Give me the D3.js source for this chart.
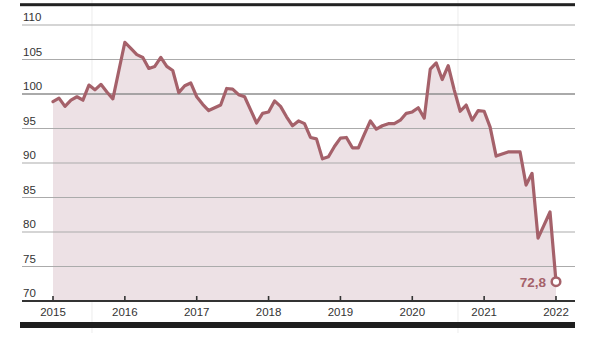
<!DOCTYPE html>
<html>
<head>
<meta charset="utf-8">
<script src="https://cdn.jsdelivr.net/npm/d3@7"></script>
<style>
  html, body { margin: 0; padding: 0; background: #fff; }
  svg { display: block; font-family: "Liberation Sans", Arial, sans-serif; }
</style>
</head>
<body>
<svg id="chart" width="594" height="339"></svg>
<script>
// Monthly index values, January 2015 to January 2022
const startYear = 2015;
const values = [
  98.9, 99.4, 98.2, 99.1, 99.6, 99.1, 101.3, 100.6, 101.4, 100.3, 99.3, 103.4,
  107.5, 106.6, 105.7, 105.3, 103.7, 104.0, 105.3, 104.0, 103.4, 100.2, 101.2, 101.6,
  99.6, 98.5, 97.6, 98.0, 98.4, 100.8, 100.7, 99.9, 99.6, 97.7, 95.8, 97.2,
  97.4, 99.0, 98.2, 96.7, 95.4, 96.1, 95.7, 93.7, 93.5, 90.6, 90.9, 92.4,
  93.6, 93.7, 92.2, 92.2, 94.2, 96.1, 94.9, 95.4, 95.7, 95.7, 96.2, 97.2,
  97.4, 98.0, 96.5, 103.6, 104.5, 102.1, 104.1, 100.6, 97.5, 98.4, 96.2, 97.6,
  97.5, 95.2, 91.0, 91.3, 91.6, 91.6, 91.6, 86.8, 88.5, 79.1, 81.0, 82.9,
  72.8
];
const yearTicks = [2015, 2016, 2017, 2018, 2019, 2020, 2021, 2022];
const valueTicks = [70, 75, 80, 85, 90, 95, 100, 105, 110];

const lineColor = "#a5616a";
const fillColor = "#ede1e5";

const data = values.map((v, i) => ({ t: startYear + i / 12, v }));

const svg = d3.select("#chart");
const x = d3.scaleLinear().domain([2015, 2022]).range([53, 556]);
const y = d3.scaleLinear().domain([70, 110]).range([301, 25]);
const left = 22, right = 575;

// faint layout guides
svg.selectAll("line.guide").data([92, 458]).join("line")
  .attr("x1", d => d).attr("x2", d => d).attr("y1", 0).attr("y2", 333)
  .attr("stroke", "#e4e4e4").attr("stroke-width", 0.7);

// top rule
svg.append("rect").attr("x", 20).attr("y", 3.2).attr("width", right - 20).attr("height", 3)
  .attr("fill", "#222");

// area under the line
const area = d3.area().x(d => x(d.t)).y0(y(70)).y1(d => y(d.v));
svg.append("path").datum(data).attr("d", area).attr("fill", fillColor);

// horizontal gridlines
svg.selectAll("line.grid").data(valueTicks.filter(v => v > 70)).join("line")
  .attr("x1", left).attr("x2", right)
  .attr("y1", d => y(d)).attr("y2", d => y(d))
  .attr("stroke", d => d === 100 ? "#8e8e8e" : "#ababab")
  .attr("stroke-width", d => d === 100 ? 1.6 : 1.2);

// value labels above gridlines
svg.selectAll("text.ylab").data(valueTicks).join("text")
  .attr("x", 23).attr("y", d => y(d) - 4)
  .attr("font-size", 11.5).attr("fill", "#333")
  .text(d => d);

// x axis baseline and ticks
svg.append("line").attr("x1", left).attr("x2", right).attr("y1", y(70)).attr("y2", y(70))
  .attr("stroke", "#333").attr("stroke-width", 2);
svg.selectAll("line.xtick").data(yearTicks).join("line")
  .attr("x1", d => x(d)).attr("x2", d => x(d))
  .attr("y1", y(70) - 5).attr("y2", y(70))
  .attr("stroke", "#333").attr("stroke-width", 1.6);
svg.selectAll("text.xlab").data(yearTicks).join("text")
  .attr("x", d => x(d)).attr("y", 315.5).attr("text-anchor", "middle")
  .attr("font-size", 11.5).attr("fill", "#333")
  .text(d => d);

// bottom rule
svg.append("rect").attr("x", 20).attr("y", 322).attr("width", right - 20).attr("height", 6)
  .attr("fill", "#1e1e1e");

// index line
const line = d3.line().x(d => x(d.t)).y(d => y(d.v));
svg.append("path").datum(data).attr("d", line)
  .attr("fill", "none").attr("stroke", lineColor).attr("stroke-width", 3.2)
  .attr("stroke-linejoin", "round").attr("stroke-linecap", "round");

// last value marker and label
const last = data[data.length - 1];
const fmt = d3.formatLocale({ decimal: ",", thousands: ".", grouping: [3], currency: ["", ""] }).format(".1f");
svg.append("circle").attr("cx", x(last.t)).attr("cy", y(last.v)).attr("r", 4.3)
  .attr("fill", "#fff").attr("stroke", lineColor).attr("stroke-width", 2.5);
svg.append("text").attr("x", x(last.t) - 10).attr("y", y(last.v) + 5)
  .attr("text-anchor", "end").attr("font-size", 13.5).attr("font-weight", "bold")
  .attr("fill", lineColor).text(fmt(last.v));
</script>
</body>
</html>
